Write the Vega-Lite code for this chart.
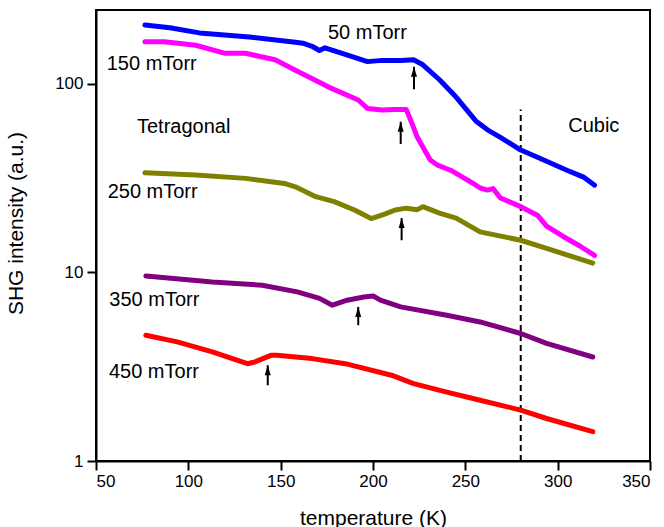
{
  "$schema": "https://vega.github.io/schema/vega-lite/v6.json",
  "width": 554,
  "height": 451,
  "autosize": {"type": "none"},
  "padding": {"left": 96, "top": 10, "right": 14, "bottom": 66},
  "background": "white",
  "config": {
    "view": {"stroke": "black", "strokeWidth": 2},
    "font": "Liberation Sans"
  },
  "datasets": {
    "curves": [
      {"s": "50 mTorr", "T": 76.5, "I": 205}, {"s": "50 mTorr", "T": 90, "I": 198}, {"s": "50 mTorr", "T": 106, "I": 186},
      {"s": "50 mTorr", "T": 133, "I": 177}, {"s": "50 mTorr", "T": 158, "I": 166}, {"s": "50 mTorr", "T": 162, "I": 164},
      {"s": "50 mTorr", "T": 167, "I": 158}, {"s": "50 mTorr", "T": 171, "I": 150}, {"s": "50 mTorr", "T": 174, "I": 155},
      {"s": "50 mTorr", "T": 185, "I": 143}, {"s": "50 mTorr", "T": 197, "I": 131}, {"s": "50 mTorr", "T": 205, "I": 133},
      {"s": "50 mTorr", "T": 215, "I": 133}, {"s": "50 mTorr", "T": 222, "I": 134}, {"s": "50 mTorr", "T": 227, "I": 126},
      {"s": "50 mTorr", "T": 236, "I": 105}, {"s": "50 mTorr", "T": 245, "I": 85}, {"s": "50 mTorr", "T": 256, "I": 63},
      {"s": "50 mTorr", "T": 262, "I": 57}, {"s": "50 mTorr", "T": 269, "I": 52}, {"s": "50 mTorr", "T": 280, "I": 44.5},
      {"s": "50 mTorr", "T": 290, "I": 40.4}, {"s": "50 mTorr", "T": 305, "I": 34.8}, {"s": "50 mTorr", "T": 314, "I": 32},
      {"s": "50 mTorr", "T": 320, "I": 29},
      {"s": "150 mTorr", "T": 76.5, "I": 167}, {"s": "150 mTorr", "T": 87, "I": 167}, {"s": "150 mTorr", "T": 104, "I": 160},
      {"s": "150 mTorr", "T": 120, "I": 145}, {"s": "150 mTorr", "T": 131, "I": 145}, {"s": "150 mTorr", "T": 147, "I": 134},
      {"s": "150 mTorr", "T": 158, "I": 118}, {"s": "150 mTorr", "T": 176, "I": 96}, {"s": "150 mTorr", "T": 192, "I": 82},
      {"s": "150 mTorr", "T": 197, "I": 74}, {"s": "150 mTorr", "T": 205, "I": 72.5}, {"s": "150 mTorr", "T": 212, "I": 73},
      {"s": "150 mTorr", "T": 218, "I": 73}, {"s": "150 mTorr", "T": 221, "I": 62}, {"s": "150 mTorr", "T": 224, "I": 52},
      {"s": "150 mTorr", "T": 231, "I": 39.4}, {"s": "150 mTorr", "T": 235, "I": 37}, {"s": "150 mTorr", "T": 242, "I": 34.8},
      {"s": "150 mTorr", "T": 254, "I": 29.7}, {"s": "150 mTorr", "T": 258, "I": 28}, {"s": "150 mTorr", "T": 262, "I": 27.3},
      {"s": "150 mTorr", "T": 265, "I": 27.8}, {"s": "150 mTorr", "T": 269, "I": 24.8}, {"s": "150 mTorr", "T": 280, "I": 22.3},
      {"s": "150 mTorr", "T": 289, "I": 20.1}, {"s": "150 mTorr", "T": 294, "I": 17.6}, {"s": "150 mTorr", "T": 303, "I": 15.5},
      {"s": "150 mTorr", "T": 312, "I": 13.8}, {"s": "150 mTorr", "T": 320, "I": 12.3},
      {"s": "250 mTorr", "T": 76.5, "I": 33.7}, {"s": "250 mTorr", "T": 104, "I": 32.8}, {"s": "250 mTorr", "T": 131, "I": 31.5},
      {"s": "250 mTorr", "T": 152, "I": 29.6}, {"s": "250 mTorr", "T": 158, "I": 28.4}, {"s": "250 mTorr", "T": 169, "I": 25.2},
      {"s": "250 mTorr", "T": 179, "I": 23.7}, {"s": "250 mTorr", "T": 190, "I": 21.4}, {"s": "250 mTorr", "T": 199, "I": 19.3},
      {"s": "250 mTorr", "T": 206, "I": 20.3}, {"s": "250 mTorr", "T": 212, "I": 21.4}, {"s": "250 mTorr", "T": 218, "I": 21.9},
      {"s": "250 mTorr", "T": 224, "I": 21.5}, {"s": "250 mTorr", "T": 227, "I": 22.3}, {"s": "250 mTorr", "T": 236, "I": 20.6},
      {"s": "250 mTorr", "T": 245, "I": 19.4}, {"s": "250 mTorr", "T": 258, "I": 16.4}, {"s": "250 mTorr", "T": 280, "I": 14.8},
      {"s": "250 mTorr", "T": 294, "I": 13.4}, {"s": "250 mTorr", "T": 319, "I": 11.2},
      {"s": "350 mTorr", "T": 77, "I": 9.58}, {"s": "350 mTorr", "T": 113, "I": 8.9}, {"s": "350 mTorr", "T": 140, "I": 8.55},
      {"s": "350 mTorr", "T": 159, "I": 7.88}, {"s": "350 mTorr", "T": 171, "I": 7.28}, {"s": "350 mTorr", "T": 178, "I": 6.7},
      {"s": "350 mTorr", "T": 186, "I": 7.12}, {"s": "350 mTorr", "T": 195, "I": 7.41}, {"s": "350 mTorr", "T": 200, "I": 7.5},
      {"s": "350 mTorr", "T": 204, "I": 7.12}, {"s": "350 mTorr", "T": 215, "I": 6.56}, {"s": "350 mTorr", "T": 240, "I": 5.93},
      {"s": "350 mTorr", "T": 258, "I": 5.46}, {"s": "350 mTorr", "T": 280, "I": 4.74}, {"s": "350 mTorr", "T": 294, "I": 4.2},
      {"s": "350 mTorr", "T": 319, "I": 3.56},
      {"s": "450 mTorr", "T": 77, "I": 4.64}, {"s": "450 mTorr", "T": 94, "I": 4.28}, {"s": "450 mTorr", "T": 113, "I": 3.79},
      {"s": "450 mTorr", "T": 132, "I": 3.28}, {"s": "450 mTorr", "T": 136, "I": 3.35}, {"s": "450 mTorr", "T": 145, "I": 3.64},
      {"s": "450 mTorr", "T": 148, "I": 3.64}, {"s": "450 mTorr", "T": 167, "I": 3.49}, {"s": "450 mTorr", "T": 185, "I": 3.28},
      {"s": "450 mTorr", "T": 210, "I": 2.85}, {"s": "450 mTorr", "T": 222, "I": 2.57}, {"s": "450 mTorr", "T": 240, "I": 2.32},
      {"s": "450 mTorr", "T": 258, "I": 2.1}, {"s": "450 mTorr", "T": 280, "I": 1.86}, {"s": "450 mTorr", "T": 294, "I": 1.68},
      {"s": "450 mTorr", "T": 319, "I": 1.43}
    ],
    "arrows": [
      {"T": 222.2, "tip": 123, "base": 93.4},
      {"T": 215.0, "tip": 62.9, "base": 47.9},
      {"T": 215.5, "tip": 19.4, "base": 14.8},
      {"T": 192.0, "tip": 6.56, "base": 5.25},
      {"T": 143.0, "tip": 3.22, "base": 2.52}
    ],
    "labels": [
      {"T": 175.6, "I": 185, "text": "50 mTorr"},
      {"T": 55.8, "I": 128, "text": "150 mTorr"},
      {"T": 72.2, "I": 58.9, "text": "Tetragonal"},
      {"T": 56.3, "I": 26.7, "text": "250 mTorr"},
      {"T": 57.2, "I": 7.18, "text": "350 mTorr"},
      {"T": 57.0, "I": 2.97, "text": "450 mTorr"},
      {"T": 305.7, "I": 59.6, "text": "Cubic"}
    ],
    "dash": [{"T": 280, "lo": 1, "hi": 73}]
  },
  "layer": [
    {
      "data": {"name": "dash"},
      "mark": {"type": "rule", "color": "black", "strokeWidth": 2, "strokeDash": [6, 4]},
      "encoding": {
        "x": {"field": "T", "type": "quantitative", "scale": {"domain": [50, 350], "nice": false},
          "axis": {"values": [50, 100, 150, 200, 250, 300, 350], "title": "temperature (K)", "grid": false,
            "domainColor": "black", "domainWidth": 2, "tickColor": "black", "tickWidth": 2, "tickSize": 9,
            "labelFontSize": 17, "labelColor": "black", "labelPadding": 3, "labelFont": "Liberation Sans",
            "titleFontSize": 21, "titleFontWeight": "normal", "titleColor": "black", "titleFont": "Liberation Sans",
            "titleX": 277, "titleY": 57, "titleBaseline": "middle"}},
        "y": {"field": "lo", "type": "quantitative", "scale": {"type": "log", "domain": [1, 246], "nice": false},
          "axis": {"values": [1, 10, 100], "format": "d", "title": "SHG intensity (a.u.)", "grid": false,
            "domainColor": "black", "domainWidth": 2, "tickColor": "black", "tickWidth": 2, "tickSize": 9,
            "labelFontSize": 17, "labelColor": "black", "labelPadding": 4, "labelFont": "Liberation Sans",
            "titleFontSize": 21, "titleFontWeight": "normal", "titleColor": "black", "titleFont": "Liberation Sans",
            "titleX": -80, "titleY": 213, "titleBaseline": "middle", "titleAlign": "center", "titleAngle": 270}},
        "y2": {"field": "hi"}
      }
    },
    {
      "data": {"name": "curves"},
      "mark": {"type": "line", "strokeWidth": 5, "strokeJoin": "round", "strokeCap": "round"},
      "encoding": {
        "x": {"field": "T", "type": "quantitative"},
        "y": {"field": "I", "type": "quantitative"},
        "color": {"field": "s", "type": "nominal", "legend": null,
          "scale": {"domain": ["50 mTorr", "150 mTorr", "250 mTorr", "350 mTorr", "450 mTorr"],
            "range": ["#0000ff", "#ff00ff", "#808000", "#800080", "#ff0000"]}},
        "order": {"field": "T", "type": "quantitative"}
      }
    },
    {
      "data": {"name": "arrows"},
      "mark": {"type": "rule", "color": "black", "strokeWidth": 2},
      "encoding": {
        "x": {"field": "T", "type": "quantitative"},
        "y": {"field": "base", "type": "quantitative"},
        "y2": {"field": "tip"}
      }
    },
    {
      "data": {"name": "arrows"},
      "mark": {"type": "point", "filled": true, "color": "black", "opacity": 1, "size": 100,
        "shape": "M0,0L0.6,2L-0.6,2Z"},
      "encoding": {
        "x": {"field": "T", "type": "quantitative"},
        "y": {"field": "tip", "type": "quantitative"}
      }
    },
    {
      "data": {"name": "labels"},
      "mark": {"type": "text", "align": "left", "baseline": "middle", "fontSize": 20, "font": "Liberation Sans", "color": "black"},
      "encoding": {
        "x": {"field": "T", "type": "quantitative"},
        "y": {"field": "I", "type": "quantitative"},
        "text": {"field": "text", "type": "nominal"}
      }
    }
  ]
}
